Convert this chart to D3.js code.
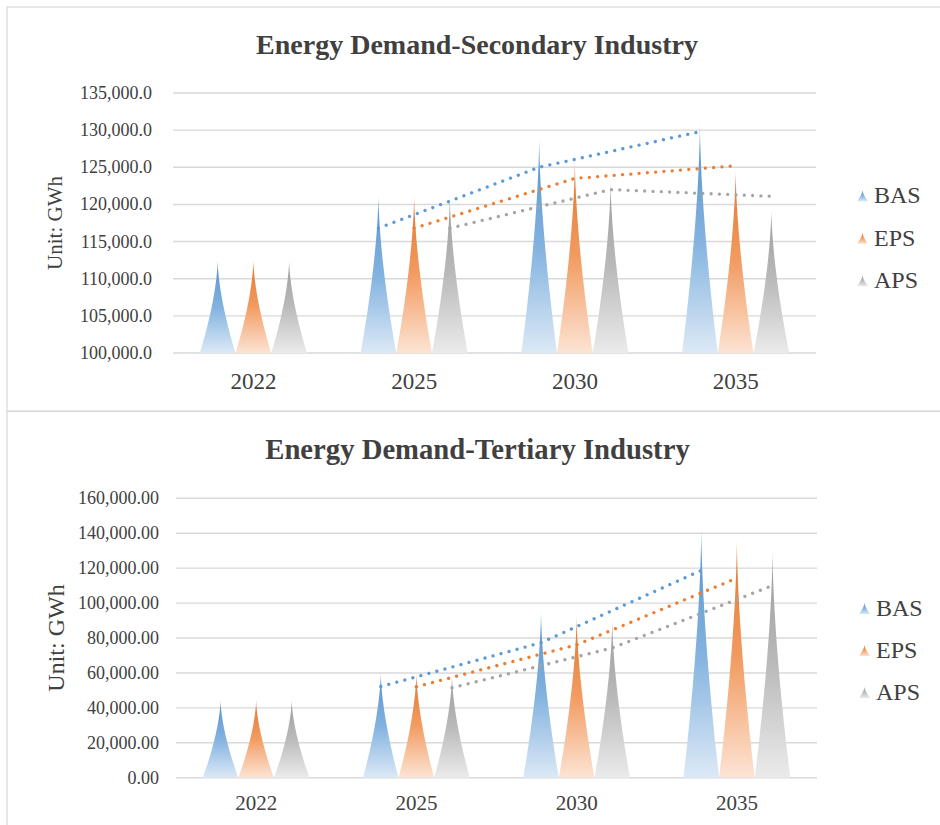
<!DOCTYPE html>
<html>
<head>
<meta charset="utf-8">
<script src="https://cdn.jsdelivr.net/npm/d3@7"></script>
<style>
  body { margin: 0; background: #fff; }
  svg { display: block; font-family: "Liberation Serif", "Times New Roman", serif; }
</style>
</head>
<body>
<div id="chart"></div>
<script>
// Categories and scenarios
const years = ["2022", "2025", "2030", "2035"];
const scenarios = ["BAS", "EPS", "APS"];

// Energy demand, secondary industry (GWh)
const secBAS = [112500, 121200, 128900, 130800];
const secEPS = [112500, 121200, 125800, 124600];
const secAPS = [112500, 121100, 123000, 119300];
// dotted trend lines (2025, 2030, 2035)
const secTrendBAS = [116800, 125000, 129800];
const secTrendEPS = [116800, 123500, 125200];
const secTrendAPS = [116800, 122000, 121100];
const secTicks = [100000, 105000, 110000, 115000, 120000, 125000, 130000, 135000];

// Energy demand, tertiary industry (GWh)
const terBAS = [44500, 60000, 95000, 142500];
const terEPS = [44500, 59800, 92600, 136100];
const terAPS = [44500, 58500, 90300, 130000];
const terTrendBAS = [52200, 77300, 118700];
const terTrendEPS = [52100, 76100, 114300];
const terTrendAPS = [51500, 74300, 110000];
const terTicks = [0, 20000, 40000, 60000, 80000, 100000, 120000, 140000, 160000];

const color = { BAS: "#5B9BD5", EPS: "#ED7D31", APS: "#A5A5A5" };
const light = { BAS: "#DCE9F6", EPS: "#FCE4D4", APS: "#EBEBEB" };
const textCol = "#404040";

const svg = d3.select("#chart").append("svg")
    .attr("width", 940)
    .attr("height", 825);

// gradients, full colour at the tip fading out to the base
const defs = svg.append("defs");
scenarios.forEach(function(s) {
    const g = defs.append("linearGradient")
        .attr("id", "grad-" + s)
        .attr("x1", 0).attr("y1", 0).attr("x2", 0).attr("y2", 1);
    g.append("stop").attr("offset", "0%").attr("stop-color", d3.color(color[s]).darker(0.15));
    g.append("stop").attr("offset", "50%").attr("stop-color", d3.interpolateRgb(color[s], light[s])(0.3));
    g.append("stop").attr("offset", "100%").attr("stop-color", light[s]);
});

// spike with concave sides, tip at (cx, yTip), base from cx-hw to cx+hw at yBase
const spikePath = function(cx, hw, yTip, yBase) {
    const pts = [];
    const n = 30, p = 1.6;
    for (let i = n; i >= 0; i--) {
        const t = i / n;
        pts.push([cx - hw * Math.pow(t, p), yTip + t * (yBase - yTip)]);
    }
    for (let i = 1; i <= n; i++) {
        const t = i / n;
        pts.push([cx + hw * Math.pow(t, p), yTip + t * (yBase - yTip)]);
    }
    return d3.line()(pts) + "Z";
};

const drawChart = function(c) {
    const g = svg.append("g");

    // chart frame
    g.append("rect")
        .attr("x", c.frame[0]).attr("y", c.frame[1])
        .attr("width", c.frame[2]).attr("height", c.frame[3])
        .attr("fill", "none")
        .attr("stroke", "#D9D9D9")
        .attr("stroke-width", 1.2);

    const x0 = d3.scaleBand().domain(years).range([c.left, c.right]).padding(0);
    const x1 = d3.scaleBand().domain(scenarios).range([0, x0.bandwidth()])
        .paddingInner(0).paddingOuter(0.75);
    const y = d3.scaleLinear().domain(c.domain).range([c.bottom, c.top]);
    const fmt = d3.format(c.fmt);

    // gridlines
    g.selectAll(".grid").data(c.ticks).enter().append("line")
        .attr("x1", c.left).attr("x2", c.right)
        .attr("y1", d => y(d)).attr("y2", d => y(d))
        .attr("stroke", "#D9D9D9")
        .attr("stroke-width", 1.4);

    // y tick labels
    g.selectAll(".ytick").data(c.ticks).enter().append("text")
        .attr("x", c.left - c.tickGap)
        .attr("y", d => y(d) + 6)
        .attr("text-anchor", "end")
        .attr("font-size", 18)
        .attr("fill", textCol)
        .text(d => fmt(d));

    // x labels
    g.selectAll(".xtick").data(years).enter().append("text")
        .attr("x", d => x0(d) + x0.bandwidth() / 2)
        .attr("y", c.bottom + c.xLabelDy)
        .attr("text-anchor", "middle")
        .attr("font-size", c.xFont)
        .attr("fill", textCol)
        .text(d => d);

    // spikes
    const rows = [];
    years.forEach(function(yr, i) {
        scenarios.forEach(function(s) {
            rows.push({ year: yr, s: s, v: c.values[s][i] });
        });
    });
    g.selectAll(".spike").data(rows).enter().append("path")
        .attr("d", d => spikePath(x0(d.year) + x1(d.s) + x1.bandwidth() / 2,
            x1.bandwidth() / 2, y(d.v), y(c.domain[0])))
        .attr("fill", d => "url(#grad-" + d.s + ")");

    // dotted trend lines
    const line = d3.line()
        .x(d => x0(d.year) + x1(d.s) + x1.bandwidth() / 2)
        .y(d => y(d.v));
    scenarios.forEach(function(s) {
        const pts = years.slice(1).map((yr, i) => ({ year: yr, s: s, v: c.trends[s][i] }));
        g.append("path")
            .attr("d", line(pts))
            .attr("fill", "none")
            .attr("stroke", color[s])
            .attr("stroke-width", 3.3)
            .attr("stroke-linecap", "round")
            .attr("stroke-dasharray", "0.01 8.3");
    });

    // title
    g.append("text")
        .attr("x", c.titleX).attr("y", c.titleY)
        .attr("text-anchor", "middle")
        .attr("font-size", c.titleFont)
        .attr("font-weight", "bold")
        .attr("fill", textCol)
        .text(c.title);

    // y axis title
    g.append("text")
        .attr("transform", "translate(" + c.yTitleX + "," + c.yTitleY + ") rotate(-90)")
        .attr("text-anchor", "middle")
        .attr("font-size", c.yTitleFont)
        .attr("fill", textCol)
        .text("Unit: GWh");

    // legend
    const leg = g.selectAll(".leg").data(scenarios).enter().append("g")
        .attr("transform", (d, i) => "translate(" + c.legX + "," + (c.legY + i * c.legStep) + ")");
    leg.append("path")
        .attr("d", spikePath(-11.5, 5.5, -13.5, -2))
        .attr("fill", d => "url(#grad-" + d + ")");
    leg.append("text")
        .attr("x", 0).attr("y", 0)
        .attr("font-size", 24)
        .attr("fill", textCol)
        .text(d => d);
};

drawChart({
    frame: [7, 7, 960, 404],
    left: 173, right: 816, top: 93, bottom: 353,
    domain: [100000, 135000], ticks: secTicks, fmt: ",.1f", tickGap: 21,
    values: { BAS: secBAS, EPS: secEPS, APS: secAPS },
    trends: { BAS: secTrendBAS, EPS: secTrendEPS, APS: secTrendAPS },
    xLabelDy: 36.3, xFont: 23,
    title: "Energy Demand-Secondary Industry", titleX: 477, titleY: 54, titleFont: 28,
    yTitleX: 61.5, yTitleY: 223, yTitleFont: 21,
    legX: 874, legY: 203.3, legStep: 42.5
});

drawChart({
    frame: [7, 411.5, 960, 440],
    left: 176, right: 817, top: 498.3, bottom: 777.7,
    domain: [0, 160000], ticks: terTicks, fmt: ",.2f", tickGap: 17,
    values: { BAS: terBAS, EPS: terEPS, APS: terAPS },
    trends: { BAS: terTrendBAS, EPS: terTrendEPS, APS: terTrendAPS },
    xLabelDy: 32.3, xFont: 21,
    title: "Energy Demand-Tertiary Industry", titleX: 477.5, titleY: 459.3, titleFont: 28.7,
    yTitleX: 64, yTitleY: 638, yTitleFont: 24,
    legX: 876, legY: 616, legStep: 42
});
</script>
</body>
</html>
